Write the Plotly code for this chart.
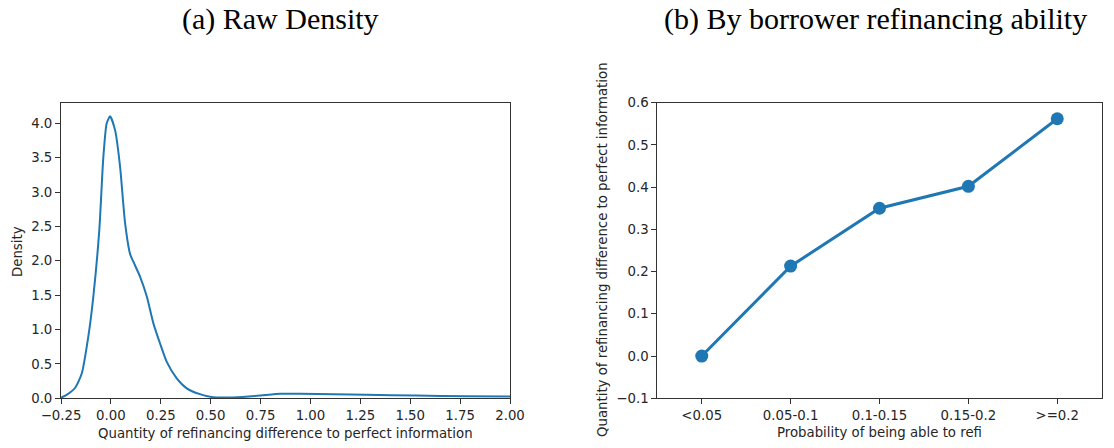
import plotly.graph_objects as go

# ---- data: (a) raw density ----
density_x = [-0.25, -0.222, -0.18, -0.146, -0.113, -0.088, -0.058, -0.038, -0.021, -0.004,
             0.021, 0.046, 0.071, 0.096, 0.112, 0.146, 0.18, 0.213, 0.246, 0.28,
             0.33, 0.38, 0.446, 0.497, 0.58, 0.66, 0.75, 0.85, 0.95, 1.115,
             1.28, 1.53, 1.78, 2.0]
density_y = [0.01, 0.05, 0.15, 0.36, 0.9, 1.48, 2.45, 3.5, 4.0, 4.1,
             3.9, 3.37, 2.55, 2.1, 1.99, 1.77, 1.48, 1.09, 0.8, 0.53,
             0.29, 0.145, 0.06, 0.024, 0.01, 0.02, 0.04, 0.065, 0.065, 0.06,
             0.05, 0.04, 0.03, 0.025]
left_xticks = [-0.25, 0.0, 0.25, 0.5, 0.75, 1.0, 1.25, 1.5, 1.75, 2.0]
left_xticklabels = ["\u22120.25", "0.00", "0.25", "0.50", "0.75", "1.00", "1.25", "1.50", "1.75", "2.00"]
left_yticks = [0.0, 0.5, 1.0, 1.5, 2.0, 2.5, 3.0, 3.5, 4.0]
left_yticklabels = ["0.0", "0.5", "1.0", "1.5", "2.0", "2.5", "3.0", "3.5", "4.0"]

# ---- data: (b) by refinancing ability ----
categories = ["<0.05", "0.05-0.1", "0.1-0.15", "0.15-0.2", ">=0.2"]
quantity = [0.0, 0.213, 0.350, 0.402, 0.562]
right_yticks = [-0.1, 0.0, 0.1, 0.2, 0.3, 0.4, 0.5, 0.6]
right_yticklabels = ["\u22120.1", "0.0", "0.1", "0.2", "0.3", "0.4", "0.5", "0.6"]

BLUE = "#1f77b4"
TXT = "#262626"
FONT = "DejaVu Sans"
SERIF = "Liberation Serif"
FS = 13.3

fig = go.Figure()
fig.add_trace(go.Scatter(x=density_x, y=density_y, mode="lines",
                         line=dict(color=BLUE, width=2, shape="spline", smoothing=0.6),
                         xaxis="x", yaxis="y", showlegend=False))
fig.add_trace(go.Scatter(x=list(range(len(categories))), y=quantity, mode="lines+markers",
                         line=dict(color=BLUE, width=3), marker=dict(color=BLUE, size=13),
                         xaxis="x2", yaxis="y2", showlegend=False))

axis_common = dict(showgrid=False, zeroline=False, showline=True, mirror=True, linecolor="#333333", linewidth=1,
                   ticks="outside", ticklen=5, tickwidth=1, tickcolor="#333333", automargin=False,
                   tickfont=dict(family=FONT, size=FS, color=TXT))

fig.update_layout(
    template="none",
    width=1114, height=448, margin=dict(l=0, r=0, t=0, b=0, pad=0, autoexpand=False),
    paper_bgcolor="white", plot_bgcolor="white",
    xaxis=dict(domain=[61/1114, 510/1114], range=[-0.25, 2.0], tickvals=left_xticks, ticktext=left_xticklabels,
               anchor="y", **axis_common),
    yaxis=dict(domain=[1-398.3/448, 1-103.3/448], range=[0, 4.29], tickvals=left_yticks, ticktext=left_yticklabels,
               anchor="x", **axis_common),
    xaxis2=dict(domain=[657.3/1114, 1101.7/1114], range=[-0.5, 4.5], tickvals=list(range(len(categories))),
                ticktext=categories, anchor="y2", **axis_common),
    yaxis2=dict(domain=[1-398.3/448, 1-102.7/448], range=[-0.1, 0.6], tickvals=right_yticks, ticktext=right_yticklabels,
                anchor="x2", **axis_common),
)

ann = []
ann.append(dict(text="(a) Raw Density", x=280/1114, y=1-19/448, xref="paper", yref="paper",
                showarrow=False, font=dict(family=SERIF, size=30, color="black"), xanchor="center", yanchor="middle"))
ann.append(dict(text="(b) By borrower refinancing ability", x=875/1114, y=1-19/448, xref="paper", yref="paper",
                showarrow=False, font=dict(family=SERIF, size=30, color="black"), xanchor="center", yanchor="middle"))
ann.append(dict(text="Density", x=17/1114, y=1-252/448, xref="paper", yref="paper", textangle=-90,
                showarrow=False, font=dict(family=FONT, size=FS, color=TXT), xanchor="center", yanchor="middle"))
ann.append(dict(text="Quantity of refinancing difference to perfect information", x=285.5/1114, y=1-433/448,
                xref="paper", yref="paper", showarrow=False, font=dict(family=FONT, size=FS, color=TXT),
                xanchor="center", yanchor="middle"))
ann.append(dict(text="Quantity of refinancing difference to perfect information", x=602/1114, y=1-250/448,
                xref="paper", yref="paper", textangle=-90, showarrow=False, font=dict(family=FONT, size=FS, color=TXT),
                xanchor="center", yanchor="middle"))
ann.append(dict(text="Probability of being able to refi", x=879.5/1114, y=1-432/448,
                xref="paper", yref="paper", showarrow=False, font=dict(family=FONT, size=FS, color=TXT),
                xanchor="center", yanchor="middle"))
fig.update_layout(annotations=ann)

fig.write_html("out.html")
